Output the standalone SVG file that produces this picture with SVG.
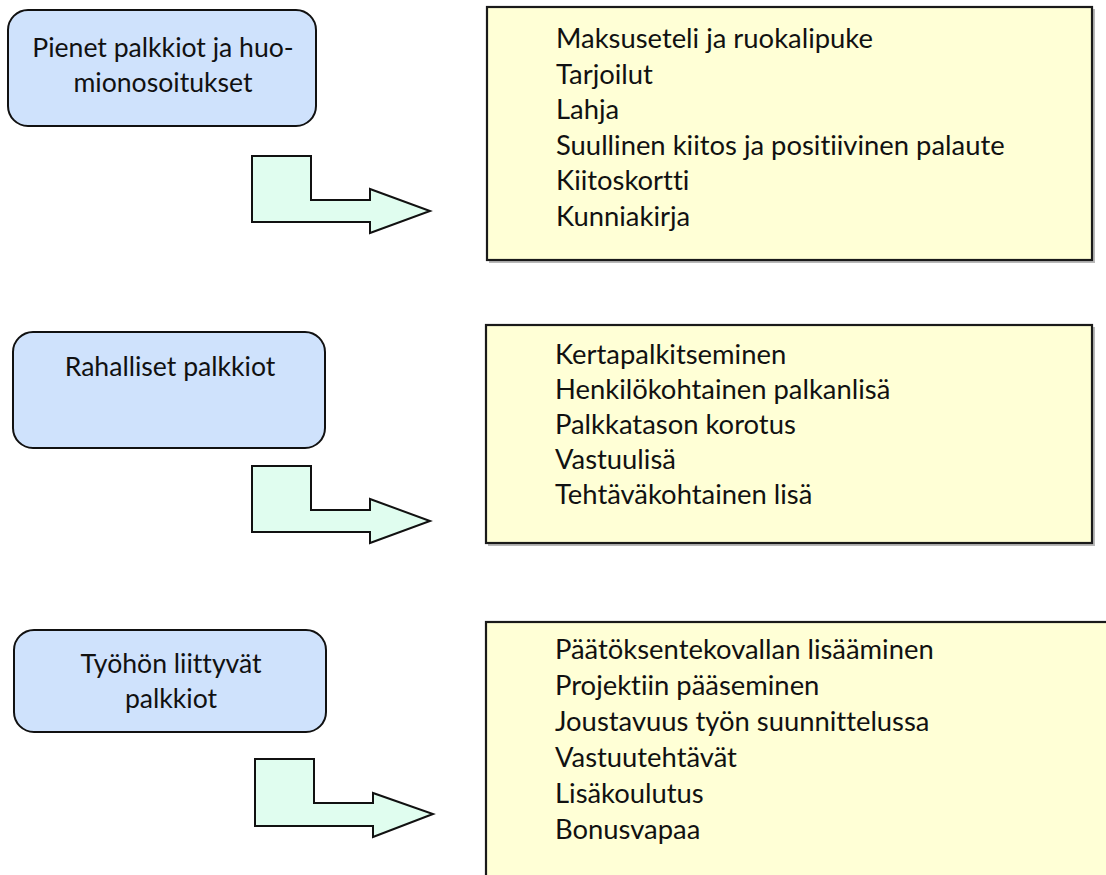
<svg xmlns="http://www.w3.org/2000/svg" width="1106" height="875" viewBox="0 0 1106 875">
  <style>
    text { font-family: Lato, "Liberation Sans", sans-serif; fill: #111; font-variant-ligatures: none; }
    .cat { fill: #cfe2fc; stroke: #111; stroke-width: 2; }
    .cat-label { font-size: 26.6px; text-anchor: middle; }
    .list { fill: #ffffd6; stroke: #1a1a1a; stroke-width: 2.2; }
    .list-shadow { fill: none; stroke: #b8b8b8; stroke-width: 2; }
    .item { font-size: 27.4px; }
    .bent { fill: #e0fdef; stroke: #111; stroke-width: 2; stroke-linejoin: miter; }
  </style>

  <!-- category: small rewards -->
  <g id="cat-small">
    <rect class="cat" x="8" y="10" width="308" height="116" rx="20"/>
    <text class="cat-label" x="163" y="57">Pienet palkkiot ja huo-</text>
    <text class="cat-label" x="163" y="92">mionosoitukset</text>
  </g>

  <!-- category: monetary rewards -->
  <g id="cat-money">
    <rect class="cat" x="13" y="332" width="312" height="116" rx="20"/>
    <text class="cat-label" x="170" y="376">Rahalliset palkkiot</text>
  </g>

  <!-- category: work-related rewards -->
  <g id="cat-work">
    <rect class="cat" x="14" y="630" width="312" height="102" rx="20"/>
    <text class="cat-label" x="171" y="673">Työhön liittyvät</text>
    <text class="cat-label" x="171" y="708">palkkiot</text>
  </g>

  <!-- list: small rewards -->
  <g id="list-small">
    <path class="list-shadow" d="M489 262 H1094 V9"/>
    <rect class="list" x="487" y="7" width="605" height="253"/>
    <text class="item" x="556" y="48">Maksuseteli ja ruokalipuke</text>
    <text class="item" x="556" y="83.5">Tarjoilut</text>
    <text class="item" x="556" y="119">Lahja</text>
    <text class="item" x="556" y="154.5">Suullinen kiitos ja positiivinen palaute</text>
    <text class="item" x="556" y="190">Kiitoskortti</text>
    <text class="item" x="556" y="225.5">Kunniakirja</text>
  </g>

  <!-- list: monetary rewards -->
  <g id="list-money">
    <path class="list-shadow" d="M488 545 H1094 V327"/>
    <rect class="list" x="486" y="325" width="606" height="218"/>
    <text class="item" x="555" y="364">Kertapalkitseminen</text>
    <text class="item" x="555" y="399">Henkilökohtainen palkanlisä</text>
    <text class="item" x="555" y="434">Palkkatason korotus</text>
    <text class="item" x="555" y="469">Vastuulisä</text>
    <text class="item" x="555" y="504">Tehtäväkohtainen lisä</text>
  </g>

  <!-- list: work-related rewards (runs past the lower edge) -->
  <g id="list-work">
    <rect class="list" x="486" y="622" width="640" height="280"/>
    <text class="item" x="555" y="659">Päätöksentekovallan lisääminen</text>
    <text class="item" x="555" y="695">Projektiin pääseminen</text>
    <text class="item" x="555" y="731">Joustavuus työn suunnittelussa</text>
    <text class="item" x="555" y="767">Vastuutehtävät</text>
    <text class="item" x="555" y="803">Lisäkoulutus</text>
    <text class="item" x="555" y="839">Bonusvapaa</text>
  </g>

  <!-- bent arrows from each category to its list -->
  <g id="connectors">
    <path class="bent" d="M252 156 H311 V200 H370 V189 L430 211 L370 233 V222 H252 Z"/>
    <path class="bent" d="M252 466 H311 V510 H370 V499 L430 521 L370 543 V532 H252 Z"/>
    <path class="bent" d="M255 759 H314 V803 H373 V793 L433 814 L373 837 V826 H255 Z"/>
  </g>
</svg>
